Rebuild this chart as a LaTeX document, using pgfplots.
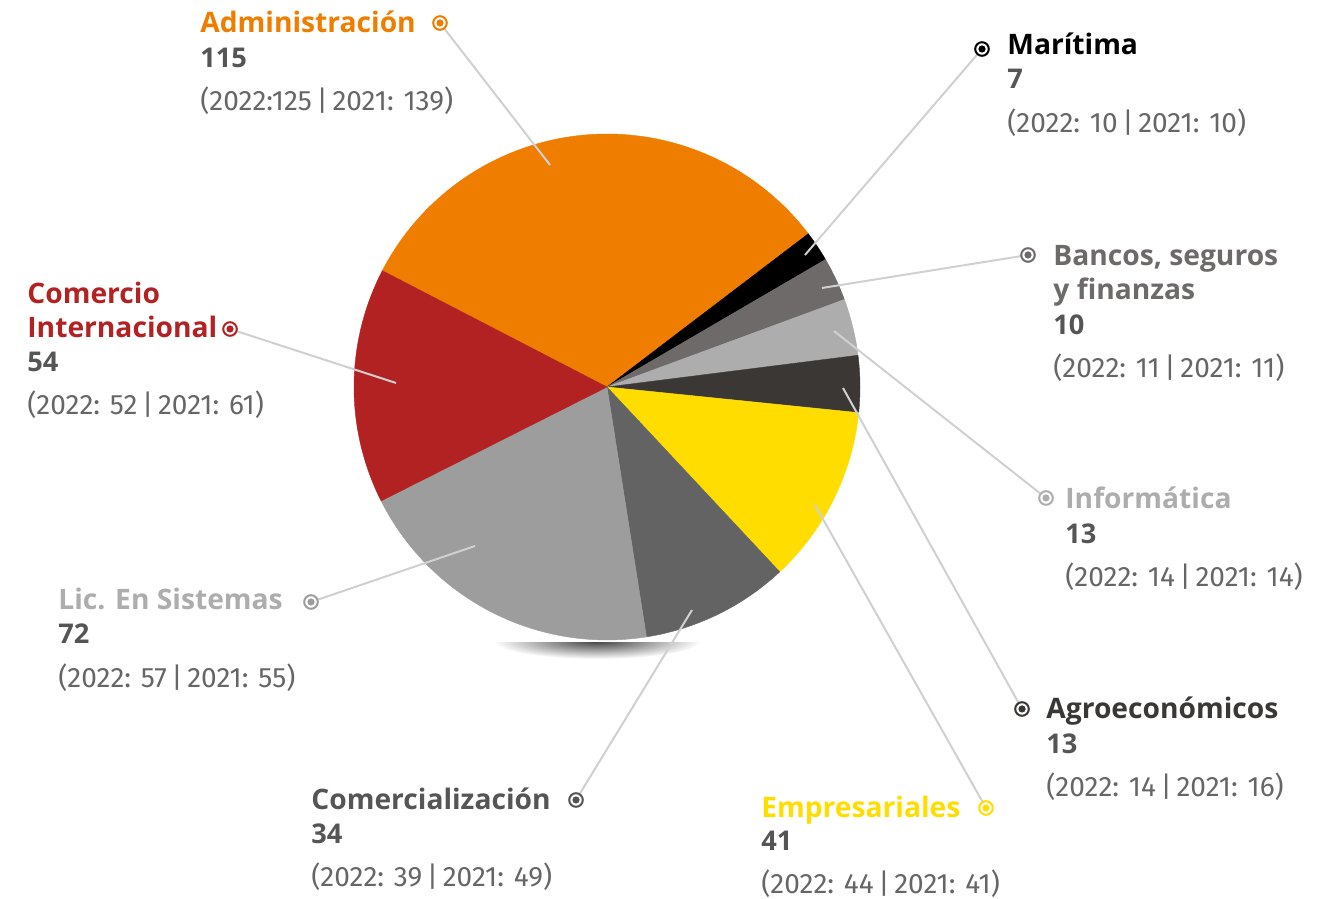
\documentclass[border=0pt]{standalone}
\usepackage{fontspec}
\setmainfont{Fira Sans}
\newfontfamily\tfont{Open Sans}
\usepackage{pgfplots}
\pgfplotsset{compat=1.18}
\definecolor{cA}{RGB}{239,125,0}
\definecolor{cM}{RGB}{0,0,0}
\definecolor{cB}{RGB}{109,106,105}
\definecolor{cI}{RGB}{173,173,173}
\definecolor{cG}{RGB}{58,55,53}
\definecolor{cE}{RGB}{255,221,0}
\definecolor{cC}{RGB}{99,99,99}
\definecolor{cS}{RGB}{157,157,157}
\definecolor{cR}{RGB}{178,34,34}
\definecolor{tNum}{RGB}{85,85,85}
\definecolor{tPar}{RGB}{102,102,102}
\definecolor{tLine}{RGB}{208,208,208}
% values
\def\vA{115}\def\vM{7}\def\vB{10}\def\vI{13}\def\vG{13}\def\vE{41}\def\vC{34}\def\vS{72}\def\vR{54}
\pgfmathsetmacro\tot{\vA+\vM+\vB+\vI+\vG+\vE+\vC+\vS+\vR}
\pgfmathsetmacro\aA{152.6}
\pgfmathsetmacro\aM{\aA-\vA/\tot*360}
\pgfmathsetmacro\aB{\aM-\vM/\tot*360}
\pgfmathsetmacro\aI{\aB-\vB/\tot*360}
\pgfmathsetmacro\aG{\aI-\vI/\tot*360}
\pgfmathsetmacro\aE{\aG-\vG/\tot*360}
\pgfmathsetmacro\aC{\aE-\vE/\tot*360}
\pgfmathsetmacro\aS{\aC-\vC/\tot*360}
\pgfmathsetmacro\aR{\aS-\vS/\tot*360}
\pgfmathsetmacro\aZ{\aR-\vR/\tot*360}
\newcommand{\slice}[3]{%
  \addplot[fill=#3, draw=#3, line width=0.2pt, domain=#1:#2, samples=90, variable=\t]
    ({607+253*cos(t)},{512+253*sin(t)}) -- (axis cs:607,512) -- cycle;}
\newcommand{\bul}[3]{% x, y(px from top), color
  \draw[#3, line width=1pt, fill=white] (axis cs:#1,{899-#2}) circle[radius=3.4pt];
  \fill[#3] (axis cs:#1,{899-#2}) circle[radius=1.8pt];}
\newcommand{\lead}[4]{\draw[tLine, line width=1pt] (axis cs:#1,{899-#2}) -- (axis cs:#3,{899-#4});}
\newcommand{\txt}[5]{\node[anchor=base west, inner sep=0pt, text=#3, font=\fontsize{14}{16}\selectfont#4] at (axis cs:#1,{899-#2}) {#5};}
\newcommand{\ttl}[4]{\node[anchor=base west, inner sep=0pt, text=#3, font=\tfont\fontsize{14.1}{16}\selectfont\bfseries] at (axis cs:#1,{899-#2}) {#4};}
\newcommand{\num}[4]{\node[anchor=base west, inner sep=0pt, text=#3, font=\tfont\fontsize{13.6}{16}\selectfont\bfseries] at (axis cs:#1,{899-#2}) {#4};}
\begin{document}
\begin{tikzpicture}
\useasboundingbox (0,0) rectangle (664.5pt,449.5pt);
\begin{axis}[at={(0,0)}, anchor=south west, x=0.5pt, y=0.5pt, xmin=0, xmax=1329, ymin=0, ymax=899,
  hide axis, clip=false, scale only axis]
% shadow
\begin{scope}
\clip (axis cs:480,{899-643}) rectangle (axis cs:720,{899-675});
\shade[inner color=black!75, outer color=white] (axis cs:597,{899-641}) ellipse[x radius=52pt, y radius=9pt];
\end{scope}
\slice{\aM}{\aA}{cA}
\slice{\aB}{\aM}{cM}
\slice{\aI}{\aB}{cB}
\slice{\aG}{\aI}{cI}
\slice{\aE}{\aG}{cG}
\slice{\aC}{\aE}{cE}
\slice{\aS}{\aC}{cC}
\slice{\aR}{\aS}{cS}
\slice{\aZ}{\aR}{cR}
% leader lines
\lead{440}{23}{550}{165}
\lead{982}{49}{805}{255}
\lead{1028}{255}{822}{288}
\lead{1046}{498}{834}{331}
\lead{1022}{709}{843}{388}
\lead{986}{808}{815}{505}
\lead{576}{800}{692}{610}
\lead{311}{602}{475}{546}
\lead{230}{329}{396}{383}
% bullets
\bul{440}{23}{cA}
\bul{982}{49}{black}
\bul{1028}{255}{cB}
\bul{1046}{498}{cI}
\bul{1022}{709}{cG}
\bul{986}{808}{cE}
\bul{576}{800}{tNum}
\bul{311}{602}{cS}
\bul{230}{329}{cR}
% Administracion
\ttl{200}{33}{cA}{Administración}
\num{200}{68}{tNum}{115}
\txt{200}{111}{tPar}{}{(2022:125\,|\,2021: 139)}
% Maritima
\ttl{1007}{55}{black}{Marítima}
\num{1007}{89}{tNum}{7}
\txt{1007}{133}{tPar}{}{(2022: 10\,|\,2021: 10)}
% Bancos
\ttl{1053}{266}{cB}{Bancos, seguros}
\ttl{1053}{300}{cB}{y finanzas}
\num{1053}{335}{tNum}{10}
\txt{1053}{378}{tPar}{}{(2022: 11\,|\,2021: 11)}
% Informatica
\ttl{1065}{509}{cI}{Informática}
\num{1065}{544}{tNum}{13}
\txt{1065}{587}{tPar}{}{(2022: 14\,|\,2021: 14)}
% Agro
\ttl{1046}{719}{cG}{Agroeconómicos}
\num{1046}{754}{tNum}{13}
\txt{1046}{797}{tPar}{}{(2022: 14\,|\,2021: 16)}
% Empresariales
\ttl{761}{818}{cE}{Empresariales}
\num{761}{851}{tNum}{41}
\txt{761}{894}{tPar}{}{(2022: 44\,|\,2021: 41)}
% Comercializacion
\ttl{311}{810}{tNum}{Comercialización}
\num{311}{844}{tNum}{34}
\txt{311}{887}{tPar}{}{(2022: 39\,|\,2021: 49)}
% Sistemas
\ttl{58}{610}{cI}{Lic. En Sistemas}
\num{58}{644}{tNum}{72}
\txt{58}{688}{tPar}{}{(2022: 57\,|\,2021: 55)}
% Comercio Internacional
\ttl{27}{304}{cR}{Comercio}
\ttl{27}{338}{cR}{Internacional}
\num{27}{372}{tNum}{54}
\txt{27}{415}{tPar}{}{(2022: 52\,|\,2021: 61)}
\end{axis}
\end{tikzpicture}
\end{document}
